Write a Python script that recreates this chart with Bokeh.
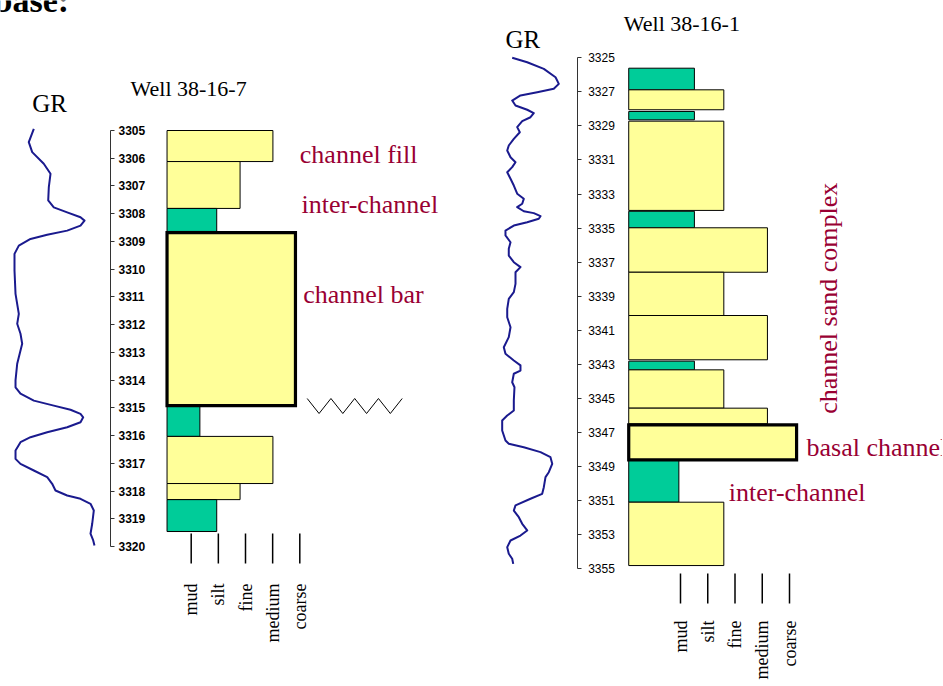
import numpy as np
from bokeh.plotting import figure
from bokeh.models import Range1d, LinearAxis, FixedTicker, ColumnDataSource
from bokeh.core.properties import value
from bokeh.embed import file_html
from bokeh.resources import INLINE

# ---------------- data ----------------
# Well 38-16-7 (depth in m, grain size class value: mud=1 ... coarse=5)
w1_top = [3305.00, 3306.12, 3307.81, 3308.68, 3314.92, 3316.03, 3317.73, 3318.31]
w1_bot = [3306.12, 3307.81, 3308.64, 3314.92, 3316.03, 3317.73, 3318.31, 3319.46]
w1_grain = [4.01, 2.80, 1.94, 4.84, 1.32, 4.01, 2.80, 1.94]
w1_lith = ["sand", "sand", "shale", "sand", "shale", "sand", "sand", "shale"]
w1_bold = [False, False, False, True, False, False, False, False]
w1_ticks = list(range(3305, 3321))
w1_gr_depth = [3304.94, 3305.42, 3305.78, 3306.20, 3306.56, 3307.04, 3307.52, 3307.77, 3307.95, 3308.13,
               3308.25, 3308.43, 3308.61, 3308.76, 3308.91, 3309.15, 3309.45, 3310.05, 3310.89, 3311.61,
               3311.97, 3312.33, 3312.69, 3313.41, 3314.01, 3314.26, 3314.49, 3314.74, 3314.92, 3315.07,
               3315.22, 3315.34, 3315.52, 3315.70, 3315.88, 3316.06, 3316.24, 3316.54, 3316.84, 3317.02,
               3317.26, 3317.50, 3317.74, 3317.98, 3318.16, 3318.28, 3318.46, 3318.70, 3319.18, 3319.54,
               3319.78, 3319.96]
w1_gr = [42.2, 33.8, 39.5, 58.8, 70.0, 67.2, 66.2, 75.5, 97.8, 120.0,
         126.7, 120.0, 97.8, 64.5, 36.7, 17.2, 10.0, 10.0, 11.7, 17.2,
         14.5, 20.0, 22.8, 14.5, 11.7, 11.7, 20.0, 42.2, 75.5, 103.3,
         120.0, 124.5, 120.0, 97.8, 64.5, 36.7, 20.0, 11.7, 11.7, 20.0,
         42.2, 64.5, 72.8, 78.3, 97.8, 120.0, 136.7, 142.2, 139.5, 136.7,
         141.2, 143.3]

# Well 38-16-1
w2_top = [3325.61, 3326.88, 3328.15, 3328.72, 3334.01, 3334.98, 3337.59, 3340.13, 3342.81, 3343.32,
          3345.57, 3346.55, 3348.60, 3351.09]
w2_bot = [3326.88, 3328.05, 3328.64, 3333.96, 3334.98, 3337.59, 3340.13, 3342.73, 3343.32, 3345.57,
          3346.49, 3348.60, 3351.09, 3354.81]
w2_grain = [1.51, 2.59, 1.51, 2.59, 1.51, 4.19, 2.59, 4.19, 1.51, 2.59, 4.19, 5.26, 0.94, 2.59]
w2_lith = ["shale", "sand", "shale", "sand", "shale", "sand", "sand", "sand", "shale", "sand",
           "sand", "sand", "shale", "sand"]
w2_bold = [False] * 11 + [True, False, False]
w2_ticks = list(range(3325, 3356, 2))
w2_gr_depth = [3325.00, 3325.26, 3325.65, 3326.14, 3326.53, 3326.82, 3327.02, 3327.21, 3327.51, 3327.80,
               3328.05, 3328.25, 3328.49, 3328.72, 3329.07, 3329.37, 3329.76, 3330.15, 3330.44, 3330.84,
               3331.13, 3331.42, 3331.72, 3332.10, 3332.50, 3332.98, 3333.28, 3333.57, 3333.77, 3334.01,
               3334.12, 3334.30, 3334.45, 3334.65, 3334.85, 3335.14, 3335.43, 3335.83, 3336.21, 3336.61,
               3337.00, 3337.29, 3337.59, 3338.27, 3338.76, 3339.15, 3339.74, 3340.23, 3340.82, 3341.40,
               3341.99, 3342.38, 3342.77, 3343.06, 3343.36, 3343.55, 3344.05, 3344.34, 3345.12, 3345.71,
               3346.00, 3346.29, 3346.88, 3347.47, 3347.66, 3347.86, 3348.15, 3348.45, 3348.84, 3349.33,
               3349.62, 3350.21, 3350.60, 3350.89, 3351.28, 3351.58, 3351.97, 3352.36, 3352.75, 3353.05,
               3353.34, 3353.73, 3354.12, 3354.41, 3354.71]
w2_gr = [19.5, 44.5, 72.2, 91.7, 97.2, 88.8, 61.2, 33.3, 19.5, 25.0,
         44.5, 55.5, 50.0, 36.2, 27.8, 32.2, 22.2, 13.8, 11.2, 16.7,
         25.0, 19.5, 11.2, 16.7, 22.2, 27.8, 38.8, 36.2, 27.8, 38.8,
         55.5, 66.7, 63.8, 44.5, 22.2, 8.3, 8.3, 16.7, 13.8, 13.8,
         22.2, 33.3, 25.0, 25.0, 22.2, 13.8, 11.2, 11.2, 16.7, 13.8,
         5.5, 8.3, 22.2, 33.3, 33.3, 22.2, 19.5, 23.3, 22.2, 22.2,
         11.2, 2.8, 2.8, 8.3, 13.8, 38.8, 66.7, 83.3, 86.2, 80.5,
         75.0, 72.2, 69.5, 50.0, 25.0, 22.2, 30.5, 36.2, 44.5, 33.3,
         16.7, 11.2, 13.8, 19.5, 21.2]

grain_classes = ["mud", "silt", "fine", "medium", "coarse"]
grain_values = [1, 2, 3, 4, 5]

# ---------------- styles / layout ----------------
SAND = "#FFFF99"
SHALE = "#00CC99"
NOTE = "#990033"
GRC = "#1a1a8e"
SERIF = "Liberation Serif"
SHIFT = 9   # compensation of the renderer's alphabetic baseline offset

W, H = 942, 685   # frame == figure; data coords of default ranges == screen pixels


def depth_range(d0, y0, px_per_m):
    # depth d0 at screen y0, px_per_m pixels per metre (depth increases downward)
    return Range1d(start=d0 + (H - y0) / px_per_m, end=d0 - y0 / px_per_m)


def lin_range(v0, x0, px_per_unit):
    return Range1d(start=v0 - x0 / px_per_unit, end=v0 + (W - x0) / px_per_unit)


p = figure(width=W, height=H, x_range=Range1d(0, W), y_range=Range1d(H, 0),
           output_backend="svg", toolbar_location=None, min_border=0,
           x_axis_type=None, y_axis_type=None)
p.outline_line_color = None
p.background_fill_color = "white"
p.border_fill_color = "white"

p.extra_y_ranges = {
    "d1": depth_range(3305, 130.0, 27.733),
    "d2": depth_range(3325, 57.3, 17.033),
}
p.extra_x_ranges = {
    "g1": lin_range(1, 190.7, 27.15),
    "g2": lin_range(1, 680.0, 27.25),
    "gr1": lin_range(0, 8.0, 0.6),
    "gr2": lin_range(0, 500.0, 0.6),
}


def txt(x, y, s, size, color="black", font=SERIF, style="normal", angle=0.0,
        align="left", baseline="alphabetic", xr="default", yr="default"):
    p.text(x=x if isinstance(x, list) else [x], y=y if isinstance(y, list) else [y],
           text=s if isinstance(s, list) else [s],
           text_font=value(font), text_font_size=value(size), text_color=color,
           text_font_style=value(style), angle=angle, text_align=value(align),
           text_baseline=value(baseline), x_range_name=xr, y_range_name=yr)


def note(x, y, s, size, color="black", style="normal", rotated=False):
    # (x, y) = start of the text's baseline in screen pixels
    if rotated:
        txt(x - SHIFT, y, s, size, color, style=style, angle=np.pi / 2)
    else:
        txt(x, y - SHIFT, s, size, color, style=style)


def well(top, bot, grain, lith, bold, base, gname, dname):
    src = ColumnDataSource(dict(top=top, bot=bot, right=grain, left=[base] * len(top),
                                color=[SAND if l == "sand" else SHALE for l in lith]))
    p.quad(left="left", right="right", top="top", bottom="bot", source=src,
           fill_color="color", line_color="black", line_width=1,
           x_range_name=gname, y_range_name=dname)
    bsrc = ColumnDataSource(dict(
        top=[t for t, b in zip(top, bold) if b], bot=[t for t, b in zip(bot, bold) if b],
        right=[t for t, b in zip(grain, bold) if b], left=[base] * sum(bold)))
    p.quad(left="left", right="right", top="top", bottom="bot", source=bsrc,
           fill_color=None, line_color="black", line_width=3.2, line_join="miter",
           x_range_name=gname, y_range_name=dname)


def depth_axis(dname, loc, ticks, bounds, bold):
    ax = LinearAxis(y_range_name=dname, fixed_location=loc,
                    ticker=FixedTicker(ticks=ticks, minor_ticks=[]), bounds=bounds)
    ax.major_tick_in = 0
    ax.major_tick_out = 4
    ax.minor_tick_in = 0
    ax.minor_tick_out = 0
    ax.axis_line_color = "#333333"
    ax.major_tick_line_color = "#333333"
    ax.major_label_text_font = "Liberation Sans"
    ax.major_label_text_font_size = "12px"
    ax.major_label_text_font_style = "bold" if bold else "normal"
    ax.major_label_text_color = "black"
    ax.major_label_standoff = 4 if bold else 7
    p.add_layout(ax, "right")


# ---- Well 38-16-7 ----
p.line(w1_gr, w1_gr_depth, x_range_name="gr1", y_range_name="d1",
       line_color=GRC, line_width=2, line_join="round")
well(w1_top, w1_bot, w1_grain, w1_lith, w1_bold, 0.11, "g1", "d1")
depth_axis("d1", 110, w1_ticks, (3305, 3320), True)
p.segment(x0=grain_values, y0=[533] * 5, x1=grain_values, y1=[563] * 5,
          x_range_name="g1", line_color="black", line_width=1.5)
txt(grain_values, [583] * 5, grain_classes, "18px", angle=np.pi / 2, align="right",
    baseline="middle", xr="g1")

# ---- Well 38-16-1 ----
p.line(w2_gr, w2_gr_depth, x_range_name="gr2", y_range_name="d2",
       line_color=GRC, line_width=2, line_join="round")
well(w2_top, w2_bot, w2_grain, w2_lith, w2_bold, -0.9, "g2", "d2")
depth_axis("d2", 576.7, w2_ticks, (3325, 3355), False)
p.segment(x0=grain_values, y0=[573] * 5, x1=grain_values, y1=[603] * 5,
          x_range_name="g2", line_color="black", line_width=1.5)
txt(grain_values, [620] * 5, grain_classes, "18px", angle=np.pi / 2, align="right",
    baseline="middle", xr="g2")

# erosion surface symbol (zigzag)
zx = list(np.linspace(306.7, 401.7, 9))
zy = [398 if i % 2 == 0 else 413 for i in range(9)]
p.line(zx, zy, line_color="black", line_width=1)

# ---- texts ----
note(-7, 9, "base:", "34px", style="bold")
note(31.7, 111.7, "GR", "25px")
note(130, 97, "Well 38-16-7", "22px")
note(299.3, 163.3, "channel fill", "26px", NOTE)
note(301, 212.7, "inter-channel", "26px", NOTE)
note(302.7, 303.3, "channel bar", "26px", NOTE)
note(505, 48.3, "GR", "25px")
note(623.3, 32, "Well 38-16-1", "22px")
note(836.7, 413.3, "channel sand complex", "26px", NOTE, rotated=True)
note(806, 455.5, "basal channel", "26px", NOTE)
note(728.3, 500.5, "inter-channel", "26px", NOTE)

open("out.html", "w").write(file_html(p, INLINE))
